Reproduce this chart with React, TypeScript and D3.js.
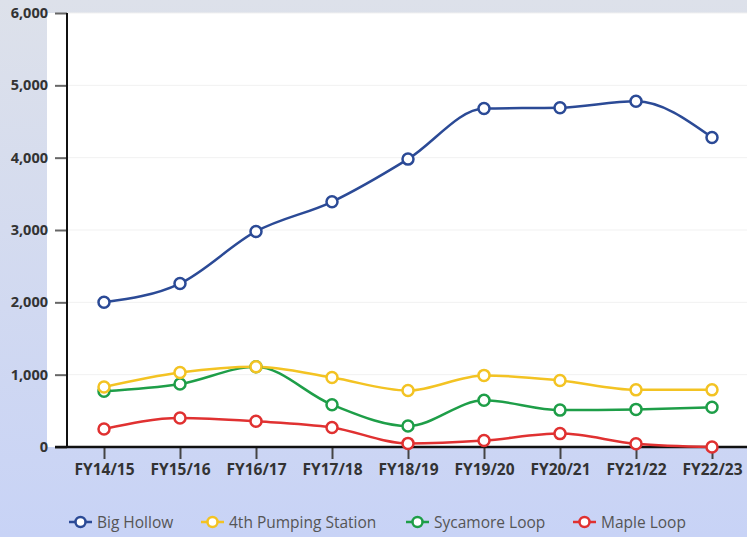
import React, { useEffect, useRef } from "react";
import * as d3 from "d3";

const years = ["FY14/15", "FY15/16", "FY16/17", "FY17/18", "FY18/19", "FY19/20", "FY20/21", "FY21/22", "FY22/23"];
const bigHollow = [2000, 2260, 2980, 3390, 3980, 4680, 4690, 4780, 4280];
const pumping = [830, 1030, 1110, 960, 780, 990, 920, 790, 790];
const sycamore = [770, 870, 1110, 585, 290, 645, 510, 520, 550];
const maple = [250, 400, 355, 270, 50, 90, 185, 45, 0];
const yTicks = [0, 1000, 2000, 3000, 4000, 5000, 6000];

const series = [
  { name: "Big Hollow", values: bigHollow, color: "#2b4a96" },
  { name: "4th Pumping Station", values: pumping, color: "#f3c323" },
  { name: "Sycamore Loop", values: sycamore, color: "#1e9e48" },
  { name: "Maple Loop", values: maple, color: "#e03131" },
];
const legendX = [69, 201, 406, 573];

export default function App() {
  const ref = useRef<SVGSVGElement>(null);

  useEffect(() => {
    const width = 747;
    const height = 537;
    const svg = d3.select(ref.current);
    svg.selectAll("*").remove();

    const defs = svg.append("defs");
    const grad = defs.append("linearGradient").attr("id", "bg").attr("x1", 0).attr("y1", 0).attr("x2", 0).attr("y2", 1);
    grad.append("stop").attr("offset", "0%").attr("stop-color", "#dde1ea");
    grad.append("stop").attr("offset", "100%").attr("stop-color", "#c8d3f6");
    svg.append("rect").attr("width", width).attr("height", height).attr("fill", "url(#bg)");

    const top = 13, bottom = 447, axisX = 67;
    svg.append("rect").attr("x", 47).attr("y", top).attr("width", width - 47).attr("height", bottom - top).attr("fill", "#ffffff");

    const x = d3.scalePoint<string>().domain(years).range([104, 712]);
    const y = d3.scaleLinear().domain([0, 6000]).range([bottom, top]);

    // grid
    svg.append("g").selectAll("line").data(yTicks.slice(1)).enter().append("line")
      .attr("x1", axisX).attr("x2", width).attr("y1", d => y(d)).attr("y2", d => y(d))
      .attr("stroke", "#f1f1f1").attr("stroke-width", 1);

    const font = "'Open Sans', 'Noto Sans', sans-serif";

    // y axis
    const ya = svg.append("g").attr("transform", `translate(${axisX},0)`)
      .call(d3.axisLeft(y).tickValues(yTicks).tickSize(12).tickPadding(7).tickFormat(d3.format(",")));
    ya.select(".domain").remove();
    ya.selectAll(".tick line").attr("stroke", "#666").attr("stroke-width", 2);
    ya.selectAll("text").attr("font-family", font).attr("font-weight", "bold").attr("font-size", 14.5).attr("fill", "#333");
    svg.append("line").attr("x1", axisX).attr("x2", axisX).attr("y1", top).attr("y2", bottom).attr("stroke", "#111").attr("stroke-width", 2);

    // x axis
    const xa = svg.append("g").attr("transform", `translate(0,${bottom})`)
      .call(d3.axisBottom(x).tickSize(12).tickPadding(5));
    xa.select(".domain").remove();
    xa.selectAll(".tick line").attr("stroke", "#444").attr("stroke-width", 2);
    xa.selectAll("text").attr("font-family", font).attr("font-weight", "bold").attr("font-size", 15.5).attr("fill", "#333");
    svg.append("line").attr("x1", 55).attr("x2", width).attr("y1", bottom).attr("y2", bottom).attr("stroke", "#111").attr("stroke-width", 2.5);

    const line = d3.line<number>().x((_, i) => x(years[i]) as number).y(d => y(d)).curve(d3.curveMonotoneX);

    series.slice().reverse().forEach(s => {
      svg.append("path").datum(s.values).attr("d", line).attr("fill", "none")
        .attr("stroke", s.color).attr("stroke-width", 2.5);
    });
    series.slice().reverse().forEach(s => {
      svg.append("g").selectAll("circle").data(s.values).enter().append("circle")
        .attr("cx", (_, i) => x(years[i]) as number).attr("cy", d => y(d)).attr("r", 5.5)
        .attr("fill", "#fff").attr("stroke", s.color).attr("stroke-width", 2.5);
    });

    // legend
    const ly = 522;
    series.forEach((s, i) => {
      const g = svg.append("g").attr("transform", `translate(${legendX[i]},${ly})`);
      g.append("line").attr("x1", 0).attr("x2", 23).attr("y1", 0).attr("y2", 0).attr("stroke", s.color).attr("stroke-width", 2.5);
      g.append("circle").attr("cx", 11.5).attr("cy", 0).attr("r", 5).attr("fill", "#fff").attr("stroke", s.color).attr("stroke-width", 2.5);
      g.append("text").attr("x", 28).attr("y", 5.5).text(s.name)
        .attr("font-family", font).attr("font-size", 15.5).attr("fill", "#555");
    });
  }, []);

  return (
    <svg ref={ref} width={747} height={537} style={{ position: "absolute", left: 0, top: 0, display: "block" }} />
  );
}
